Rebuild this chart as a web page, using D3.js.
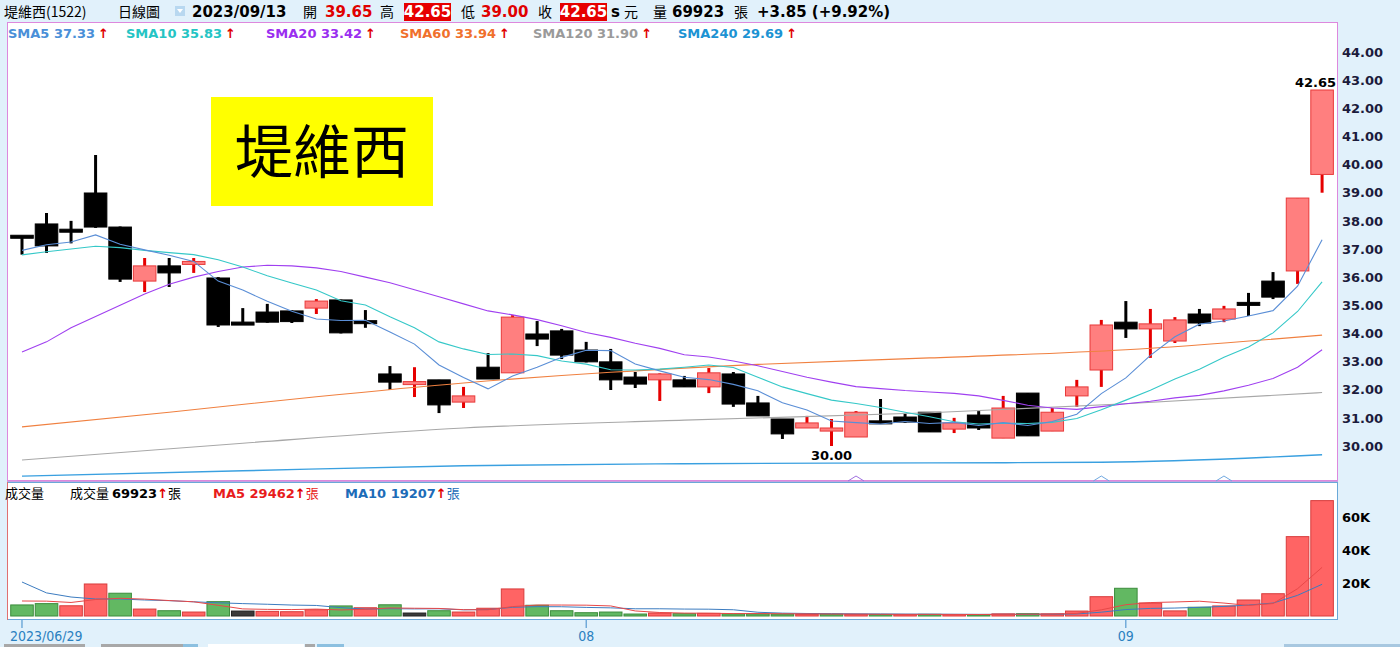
<!DOCTYPE html>
<html>
<head>
<meta charset="utf-8">
<script src="https://cdn.jsdelivr.net/npm/d3@7"></script>
<style>
  body { margin: 0; background: #e1f1fb; }
  svg { display: block; }
</style>
</head>
<body>
<div class="chart"></div>
<script>
'use strict'

const dates = [
  '2023/06/29', '2023/06/30',
  '2023/07/03', '2023/07/04', '2023/07/05', '2023/07/06', '2023/07/07',
  '2023/07/10', '2023/07/11', '2023/07/12', '2023/07/13', '2023/07/14',
  '2023/07/17', '2023/07/18', '2023/07/19', '2023/07/20', '2023/07/21',
  '2023/07/24', '2023/07/25', '2023/07/26', '2023/07/27', '2023/07/28', '2023/07/31',
  '2023/08/01', '2023/08/02', '2023/08/04',
  '2023/08/07', '2023/08/08', '2023/08/09', '2023/08/10', '2023/08/11',
  '2023/08/14', '2023/08/15', '2023/08/16', '2023/08/17', '2023/08/18',
  '2023/08/21', '2023/08/22', '2023/08/23', '2023/08/24', '2023/08/25',
  '2023/08/28', '2023/08/29', '2023/08/30', '2023/08/31',
  '2023/09/01', '2023/09/04', '2023/09/05', '2023/09/06', '2023/09/07', '2023/09/08',
  '2023/09/11', '2023/09/12', '2023/09/13'
]

const opens = [
  37.45, 37.89, 37.67, 38.99, 37.78, 35.86, 36.40, 36.47, 35.97, 34.40,
  34.76, 34.80, 34.90, 35.19, 34.42, 32.56, 32.20, 32.35, 31.56, 32.80,
  32.60, 33.98, 34.09, 33.41, 32.99, 32.45, 32.35, 32.35, 32.10, 32.56,
  31.53, 30.96, 30.64, 30.53, 30.32, 30.86, 31.03, 31.20, 30.60, 31.10,
  30.28, 31.88, 30.53, 31.78, 32.70, 34.40, 34.16, 33.73, 34.69, 34.51,
  35.06, 35.86, 36.22, 39.65
]
const highs = [
  37.45, 38.28, 38.00, 40.34, 37.80, 36.68, 36.68, 36.68, 36.00, 34.90,
  35.05, 34.82, 35.22, 35.20, 34.83, 32.84, 32.80, 32.35, 32.10, 33.30,
  34.65, 34.44, 34.16, 33.70, 33.45, 32.63, 32.58, 32.49, 32.77, 32.63,
  31.78, 30.96, 31.07, 30.96, 31.24, 31.67, 31.17, 31.20, 31.00, 31.24,
  31.78, 31.88, 31.35, 32.35, 34.48, 35.15, 34.87, 34.58, 34.87, 34.98,
  35.44, 36.18, 38.81, 42.65
]
const lows = [
  36.80, 36.86, 37.20, 37.75, 35.83, 35.47, 35.65, 36.15, 34.23, 34.30,
  34.38, 34.37, 34.69, 34.00, 34.20, 31.99, 31.74, 31.17, 31.35, 32.38,
  32.60, 33.55, 33.09, 32.97, 31.99, 32.06, 31.60, 32.10, 31.88, 31.39,
  31.07, 30.25, 30.64, 30.00, 30.32, 30.80, 30.82, 30.50, 30.46, 30.57,
  30.28, 30.36, 30.53, 31.39, 32.10, 33.84, 33.13, 33.66, 34.26, 34.40,
  34.62, 35.22, 35.76, 39.00
]
const closes = [
  37.42, 37.11, 37.63, 37.78, 35.93, 36.40, 36.15, 36.54, 34.30, 34.30,
  34.40, 34.42, 35.15, 34.02, 34.38, 32.27, 32.27, 31.46, 31.78, 32.38,
  34.58, 33.80, 33.23, 32.99, 32.35, 32.20, 32.56, 32.10, 32.60, 31.49,
  31.07, 30.43, 30.82, 30.64, 31.20, 30.82, 30.85, 30.50, 30.82, 30.64,
  31.35, 30.36, 31.20, 32.10, 34.30, 34.16, 34.34, 34.48, 34.37, 34.87,
  35.04, 35.29, 38.81, 42.65
]
const prevClose = 37.60

const volumes = [
  6700, 7500, 6200, 19400, 13800, 4200, 3200, 2400, 8700, 3000,
  2800, 2600, 3800, 6100, 5000, 6800, 1800, 3200, 2400, 4700,
  16400, 6500, 3200, 2000, 2400, 1200, 1800, 1400, 1600, 1300,
  1300, 1200, 1000, 1100, 1000, 900, 900, 1000, 900, 800,
  1300, 1400, 1300, 3000, 11700, 16800, 7900, 3100, 5300, 6100,
  9700, 13500, 48100, 69923
]

const sma5 = [
  36.95, 37.15, 37.25, 37.50, 37.17, 36.97, 36.78, 36.56, 35.86, 35.54,
  35.14, 34.79, 34.51, 34.46, 34.47, 34.05, 33.62, 32.88, 32.43, 32.03,
  32.49, 32.80, 33.15, 33.40, 33.39, 32.91, 32.67, 32.44, 32.36, 32.19,
  31.96, 31.54, 31.28, 30.89, 30.83, 30.78, 30.87, 30.80, 30.84, 30.73,
  30.83, 30.73, 30.87, 31.13, 31.86, 32.42, 33.22, 33.88, 34.33, 34.44,
  34.62, 34.81, 35.68, 37.33
]
const sma10 = [
  36.79, 36.90, 37.00, 37.10, 37.05, 36.95, 36.87, 36.80, 36.62, 36.36,
  36.05, 35.79, 35.54, 35.16, 35.01, 34.59, 34.20, 33.70, 33.45, 33.25,
  33.27, 33.21, 33.02, 32.91, 32.71, 32.70, 32.73, 32.80, 32.88, 32.79,
  32.44, 32.10, 31.86, 31.63, 31.51, 31.37, 31.20, 31.04, 30.86, 30.78,
  30.81, 30.80, 30.84, 30.98, 31.29, 31.63, 31.98, 32.38, 32.73, 33.15,
  33.52, 34.02, 34.78, 35.83
]
const sma20 = [
  33.34, 33.70, 34.20, 34.60, 35.00, 35.40, 35.75, 36.00, 36.20, 36.36,
  36.42, 36.40, 36.33, 36.20, 36.00, 35.80, 35.55, 35.30, 35.05, 34.80,
  34.66, 34.49, 34.27, 34.03, 33.86, 33.65, 33.47, 33.24, 33.16, 33.02,
  32.85, 32.65, 32.44, 32.27, 32.11, 32.04, 31.97, 31.92, 31.87, 31.78,
  31.62, 31.45, 31.35, 31.30, 31.40, 31.50, 31.59, 31.71, 31.80, 31.96,
  32.16, 32.40, 32.80, 33.42
]

const sma60Days = [0, 6, 12, 18, 24, 30, 37, 45, 53]
const sma60 = [30.68, 31.20, 31.75, 32.24, 32.62, 32.90, 33.13, 33.42, 33.94]
const sma120Days = [0, 9, 18, 27, 37, 45, 53]
const sma120 = [29.50, 30.10, 30.64, 30.92, 31.18, 31.50, 31.90]
const sma240Days = [0, 9, 18, 27, 37, 44, 53]
const sma240 = [28.93, 29.12, 29.30, 29.37, 29.40, 29.42, 29.69]

const volMa5 = [
  9100, 9000, 8200, 10000, 10720, 10220, 9360, 8600, 6460, 4300,
  4020, 3900, 4180, 3660, 4060, 4860, 4700, 4580, 3840, 3780,
  5700, 6640, 6640, 6560, 6100, 3060, 2120, 1760, 1680, 1460,
  1480, 1360, 1280, 1180, 1120, 1040, 980, 980, 940, 900,
  980, 1080, 1140, 1560, 3740, 6840, 8140, 8500, 8960, 7840,
  6420, 7540, 16540, 29462
]
const volMa10 = [
  20600, 14000, 11500, 10300, 10300, 9700, 9300, 8600, 8000, 7510,
  7120, 6630, 6390, 5060, 4180, 4440, 4300, 4380, 3750, 3920,
  5280, 5670, 5610, 5200, 4940, 4380, 4380, 4200, 4120, 3780,
  2270, 1740, 1520, 1430, 1290, 1260, 1170, 1130, 1060, 1010,
  1010, 1030, 1060, 1250, 2320, 3910, 4610, 4820, 5260, 5790,
  6630, 7840, 12520, 19207
]

// little signal marks sitting on the bottom edge of the price panel
const signalDays = [34, 44, 49]

const priceTicks = [30, 31, 32, 33, 34, 35, 36, 37, 38, 39, 40, 41, 42, 43, 44]
const volTicks = [20000, 40000, 60000]
const monthTicks = ['2023/06/29', '2023/08/01', '2023/09/01']
const monthLabels = ['2023/06/29', '08', '09']

const smaLegend = [
  { name: 'SMA5', value: '37.33', color: '#4a8fd8' },
  { name: 'SMA10', value: '35.83', color: '#25c4c4' },
  { name: 'SMA20', value: '33.42', color: '#9a2ef0' },
  { name: 'SMA60', value: '33.94', color: '#f0702c' },
  { name: 'SMA120', value: '31.90', color: '#9a9a9a' },
  { name: 'SMA240', value: '29.69', color: '#1c93d3' }
]

const width = 1400
const height = 647
const numFont = 'DejaVu Sans, Verdana, sans-serif'
const cjkFont = '"Noto Sans CJK TC", sans-serif'

const svg = d3.select('.chart').append('svg')
    .attr('width', width)
    .attr('height', height)

const x = d3.scaleBand()
    .domain(dates)
    .range([9.73, 1334.35])
    .paddingInner(0.08)
    .paddingOuter(0.04)
const cx = d => x(d) + x.bandwidth() / 2

const y = d3.scaleLinear()
    .domain([30, 44])
    .range([446, 52])

const yv = d3.scaleLinear()
    .domain([0, 60000])
    .range([616, 517])

// panels
svg.append('rect')
    .attr('x', 0).attr('y', 0).attr('width', width).attr('height', height)
    .attr('fill', '#e1f1fb')

svg.append('rect')
    .attr('x', 7.5).attr('y', 22.5).attr('width', 1330).attr('height', 458)
    .attr('fill', '#fff')
    .attr('stroke', '#dd88dd')

svg.append('rect')
    .attr('x', 7.5).attr('y', 482.5).attr('width', 1330).attr('height', 137)
    .attr('fill', '#fff')
    .attr('stroke', '#6aa8d8')
svg.append('line')
    .attr('x1', 7.5).attr('x2', 7.5).attr('y1', 482).attr('y2', 620)
    .attr('stroke', '#e07070')
svg.append('line')
    .attr('x1', 7).attr('x2', 1338).attr('y1', 481.5).attr('y2', 481.5)
    .attr('stroke', '#c8a0e0')

svg.append('g').selectAll('path')
    .data(signalDays)
  .enter().append('path')
    .attr('d', i => `M${cx(dates[i]) - 8},481 L${cx(dates[i])},476 L${cx(dates[i]) + 8},481`)
    .attr('fill', 'none')
    .attr('stroke', (d, i) => i === 0 ? '#a070e0' : '#70a8e0')

// name box
svg.append('rect')
    .attr('x', 211).attr('y', 97).attr('width', 222).attr('height', 109)
    .attr('fill', '#ffff00')
svg.append('text')
    .attr('x', 322).attr('y', 173)
    .attr('text-anchor', 'middle')
    .style('font-family', cjkFont)
    .style('font-size', '58px')
    .text('堤維西')

// header
const header = svg.append('g')
    .attr('transform', 'translate(0,17)')
    .style('font-size', '15px')

function headText(xPos, txt, opts = {}) {
  return header.append('text')
      .attr('x', xPos)
      .attr('fill', opts.color || '#000')
      .style('font-family', opts.cjk ? cjkFont : numFont)
      .style('font-weight', opts.bold ? 'bold' : 'normal')
      .style('font-size', opts.size || null)
      .attr('text-anchor', opts.anchor || 'start')
      .text(txt)
}

headText(4, '堤維西(1522)', { cjk: true, size: '14px' })
headText(118, '日線圖', { cjk: true, size: '14px' })
header.append('rect')
    .attr('x', 175).attr('y', -11).attr('width', 10).attr('height', 10)
    .attr('fill', '#b8d8f0')
header.append('path')
    .attr('d', 'M177,-8 L183,-8 L180,-4 Z')
    .attr('fill', '#fff')
headText(192, '2023/09/13', { bold: true })
headText(303, '開', { cjk: true, size: '14px' })
headText(325, '39.65', { bold: true, color: '#e00000' })
headText(380, '高', { cjk: true, size: '14px' })
header.append('rect')
    .attr('x', 404).attr('y', -14).attr('width', 47).attr('height', 18)
    .attr('fill', '#e60000')
headText(427.5, '42.65', { bold: true, color: '#fff', anchor: 'middle' })
headText(461, '低', { cjk: true, size: '14px' })
headText(481, '39.00', { bold: true, color: '#e00000' })
headText(538, '收', { cjk: true, size: '14px' })
header.append('rect')
    .attr('x', 560).attr('y', -14).attr('width', 47).attr('height', 18)
    .attr('fill', '#e60000')
headText(583.5, '42.65', { bold: true, color: '#fff', anchor: 'middle' })
headText(611, 's', { bold: true })
headText(624, '元', { cjk: true, size: '14px' })
headText(653, '量', { cjk: true, size: '14px' })
headText(672, '69923', { bold: true })
headText(734, '張', { cjk: true, size: '14px' })
headText(757, '+3.85 (+9.92%)', { bold: true })

// sma legend
const legendX = [8, 126, 266, 400, 533, 678]
const legend = svg.append('g')
    .attr('transform', 'translate(0,38)')
    .style('font-family', numFont)
    .style('font-size', '13px')
    .style('font-weight', 'bold')

smaLegend.forEach((d, i) => {
  const t = legend.append('text')
      .attr('x', legendX[i])
      .attr('fill', d.color)
  t.append('tspan').text(d.name + ' ' + d.value)
  t.append('tspan').attr('fill', '#e00000').attr('dx', 3).text('↑')
})

// candles
const bars = dates.map((date, i) => ({
  date,
  o: opens[i],
  h: highs[i],
  l: lows[i],
  c: closes[i],
  v: volumes[i],
  prev: i === 0 ? prevClose : closes[i - 1]
}))

const candle = svg.append('g').selectAll('g')
    .data(bars)
  .enter().append('g')

candle.append('line')
    .attr('x1', d => cx(d.date))
    .attr('x2', d => cx(d.date))
    .attr('y1', d => y(d.h))
    .attr('y2', d => y(d.l))
    .attr('stroke', d => d.c > d.o ? '#e60000' : '#000')
    .attr('stroke-width', 3)

candle.append('rect')
    .attr('x', d => x(d.date))
    .attr('width', x.bandwidth())
    .attr('y', d => {
      const top = y(Math.max(d.o, d.c))
      const hgt = Math.abs(y(d.o) - y(d.c))
      return hgt < 3 ? (top + hgt / 2 - 1.5) : top
    })
    .attr('height', d => Math.max(3, Math.abs(y(d.o) - y(d.c))))
    .attr('fill', d => d.c > d.o ? '#ff7f7f' : '#000')
    .attr('stroke', d => d.c > d.o ? '#e83a3a' : '#000')
    .attr('stroke-width', 1)

// moving averages
const line = d3.line()
    .x((v, i) => cx(dates[i]))
    .y(v => y(v))

const sparseLine = d3.line()
    .x(d => cx(dates[d[0]]))
    .y(d => y(d[1]))
    .curve(d3.curveMonotoneX)

function pair(days, vals) {
  return days.map((d, i) => [d, vals[i]])
}

const maLines = svg.append('g')
    .attr('fill', 'none')
    .attr('stroke-width', 1.1)

maLines.append('path').attr('d', sparseLine(pair(sma240Days, sma240))).attr('stroke', '#3aa0e0').attr('stroke-width', 1.4)
maLines.append('path').attr('d', sparseLine(pair(sma120Days, sma120))).attr('stroke', '#a8a8a8')
maLines.append('path').attr('d', sparseLine(pair(sma60Days, sma60))).attr('stroke', '#f08040')
maLines.append('path').attr('d', line(sma20)).attr('stroke', '#a040f0')
maLines.append('path').attr('d', line(sma10)).attr('stroke', '#35c8c8')
maLines.append('path').attr('d', line(sma5)).attr('stroke', '#5a8ed6')

// high / low marks
svg.append('text')
    .attr('x', 1336).attr('y', 87)
    .attr('text-anchor', 'end')
    .style('font-family', numFont)
    .style('font-size', '13px')
    .style('font-weight', 'bold')
    .text('42.65')

svg.append('text')
    .attr('x', cx(dates[33])).attr('y', 460)
    .attr('text-anchor', 'middle')
    .style('font-family', numFont)
    .style('font-size', '13px')
    .style('font-weight', 'bold')
    .text('30.00')

// price axis
const yAxis = svg.append('g')
    .attr('transform', 'translate(1342,0)')
    .call(d3.axisRight(y).tickValues(priceTicks).tickFormat(d3.format('.2f')).tickSize(0))
yAxis.select('.domain').remove()
yAxis.selectAll('text')
    .attr('x', 0)
    .attr('fill', '#1b1b3c')
    .style('font-family', numFont)
    .style('font-size', '13px')
    .style('font-weight', 'bold')

// volume
function volColor(d) {
  if (d.c > d.prev) return ['#ff6464', '#d83c3c']
  if (d.c < d.prev) return ['#62b862', '#3c8c3c']
  return ['#3a3a3a', '#222']
}

svg.append('g').selectAll('rect')
    .data(bars)
  .enter().append('rect')
    .attr('x', d => x(d.date))
    .attr('width', x.bandwidth())
    .attr('y', d => yv(d.v))
    .attr('height', d => 616 - yv(d.v))
    .attr('fill', d => volColor(d)[0])
    .attr('stroke', d => volColor(d)[1])
    .attr('stroke-width', 1)

const volLine = d3.line()
    .x((v, i) => cx(dates[i]))
    .y(v => yv(v))

svg.append('path')
    .attr('d', volLine(volMa10))
    .attr('fill', 'none')
    .attr('stroke', '#3c7cc0')
svg.append('path')
    .attr('d', volLine(volMa5))
    .attr('fill', 'none')
    .attr('stroke', '#e84848')

const vAxis = svg.append('g')
    .attr('transform', 'translate(1342,0)')
    .call(d3.axisRight(yv).tickValues(volTicks).tickFormat(d => d / 1000 + 'K').tickSize(0))
vAxis.select('.domain').remove()
vAxis.selectAll('text')
    .attr('x', 0)
    .attr('fill', '#000')
    .style('font-family', numFont)
    .style('font-size', '13px')
    .style('font-weight', 'bold')

// volume legend
const vLegend = svg.append('g')
    .attr('transform', 'translate(0,498)')
    .style('font-size', '13px')

vLegend.append('text').attr('x', 5).style('font-family', cjkFont).text('成交量')

function legendItem(xPos, label, val, color) {
  const t = vLegend.append('text').attr('x', xPos).attr('fill', color)
  t.append('tspan').style('font-family', label === '成交量' ? cjkFont : numFont)
      .style('font-weight', label === '成交量' ? 'normal' : 'bold')
      .text(label + ' ')
  t.append('tspan').style('font-family', numFont).style('font-weight', 'bold').text(val)
  t.append('tspan').attr('fill', '#e00000').style('font-family', numFont).style('font-weight', 'bold').text('↑')
  t.append('tspan').style('font-family', cjkFont).text('張')
}

legendItem(70, '成交量', '69923', '#000')
legendItem(213, 'MA5', '29462', '#e81c1c')
legendItem(345, 'MA10', '19207', '#1c6cb8')

// time axis
const xAxis = svg.append('g')
    .attr('transform', 'translate(0,620)')
    .call(d3.axisBottom(x).tickValues(monthTicks).tickSize(8)
      .tickFormat((d, i) => monthLabels[i]))
xAxis.select('.domain').remove()
xAxis.selectAll('line').attr('stroke', '#3a88c8')
xAxis.selectAll('text')
    .attr('y', 21)
    .attr('dy', 0)
    .attr('fill', '#2a80c0')
    .style('font-family', '"DejaVu Sans Condensed", "DejaVu Sans", sans-serif')
    .style('font-stretch', 'condensed')
    .style('font-size', '14px')
xAxis.selectAll('.tick').filter((d, i) => i === 0).select('text')
    .attr('text-anchor', 'start')
    .attr('x', -12)

// bits of the toolbar below
const tabs = [[4, 81, '#a8a8a8'], [101, 82, '#a8a8a8'], [183, 15, '#8cc0e0'], [208, 60, '#fff'], [268, 36, '#fff'], [305, 10, '#a8a8a8'], [317, 27, '#8cc0e0'], [1284, 116, '#a8c8e0']]
svg.append('g').selectAll('rect')
    .data(tabs)
  .enter().append('rect')
    .attr('x', d => d[0]).attr('y', 644).attr('width', d => d[1]).attr('height', 3)
    .attr('fill', d => d[2])
</script>
</body>
</html>
